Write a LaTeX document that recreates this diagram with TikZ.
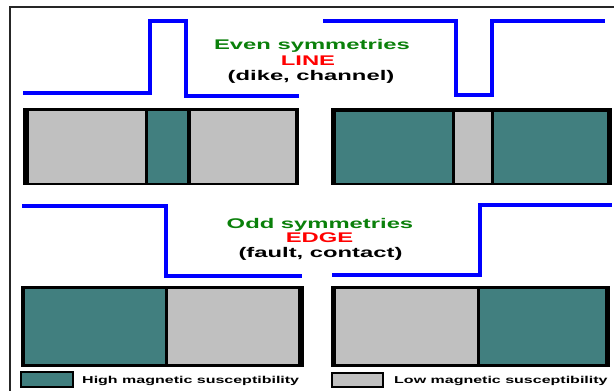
\documentclass[tikz,border=0pt]{standalone}
\usepackage{fontspec}
\setmainfont{Liberation Sans}
\definecolor{teal1}{RGB}{65,127,127}
\definecolor{gray1}{RGB}{192,192,192}
\definecolor{green1}{RGB}{10,128,10}
\definecolor{red1}{RGB}{255,0,0}
\definecolor{blue1}{RGB}{0,0,255}
\tikzset{
  anomaly/.style={draw=blue1, line width=4pt, line join=miter},
  title/.style={anchor=base, inner sep=0pt, font=\bfseries\fontsize{14}{14}\selectfont},
  legtext/.style={anchor=base west, inner sep=0pt, font=\bfseries\fontsize{10}{10}\selectfont},
  hi/.style={fill=teal1},
  lo/.style={fill=gray1},
}
\newcommand{\wide}[1]{\scalebox{1.7}[1]{#1}}
\newcommand{\legwide}[1]{\scalebox{1.6}[1]{#1}}
\begin{document}
\begin{tikzpicture}[x=1pt,y=-1pt]
\useasboundingbox (0,0) rectangle (614,391);
% frame
\draw[line width=2pt, black!85] (10,391) -- (10,7) -- (614,7);

% ---- top left: dike ----
\draw[anomaly] (23,93) -- (150,93) -- (150,21) -- (186,21) -- (186,95.5) -- (299,95.5);
\fill[black] (23,108) rectangle (299,185);
\fill[lo] (29,111) rectangle (145,183);
\fill[hi] (148,111) rectangle (187,183);
\fill[lo] (191,111) rectangle (295,183);

% ---- top right: channel ----
\draw[anomaly] (323,20.5) -- (456,20.5) -- (456,95) -- (491.5,95) -- (491.5,20.5) -- (605,20.5);
\fill[black] (331,108) rectangle (612,185);
\fill[hi] (336,112) rectangle (452,183);
\fill[lo] (455,112) rectangle (491,183);
\fill[hi] (494,112) rectangle (607,183);

% ---- bottom left: fault ----
\draw[anomaly] (22,205.5) -- (166,205.5) -- (166,275.5) -- (302,275.5);
\fill[black] (21,286) rectangle (304,367);
\fill[hi] (25,289) rectangle (165,364);
\fill[lo] (168,289) rectangle (298,364);

% ---- bottom right: contact ----
\draw[anomaly] (332,275) -- (480,275) -- (480,204.5) -- (612,204.5);
\fill[black] (331,286) rectangle (610,367);
\fill[lo] (336,289) rectangle (477,364);
\fill[hi] (480,289) rectangle (605,364);

% titles
\node[title, text=green1] (even) at (312,49) {\wide{Even symmetries}};
\node[title, text=red1] (line) at (308,65) {\wide{LINE}};
\node[title] (dike) at (311,80) {\wide{(dike, channel)}};
\node[title, text=green1] (odd) at (320,228) {\wide{Odd symmetries}};
\node[title, text=red1] (edge) at (319.5,242) {\wide{EDGE}};
\node[title] (fault) at (320.5,257) {\wide{(fault, contact)}};

% legend
\draw[hi, draw=black, line width=2pt] (21,372) rectangle (73,387);
\node[legtext] (high) at (82,383.5) {\legwide{High magnetic susceptibility}};
\draw[lo, draw=black, line width=2pt] (332,373) rectangle (383,387);
\node[legtext] (low) at (394,383.5) {\legwide{Low magnetic susceptibility}};
\end{tikzpicture}
\end{document}
